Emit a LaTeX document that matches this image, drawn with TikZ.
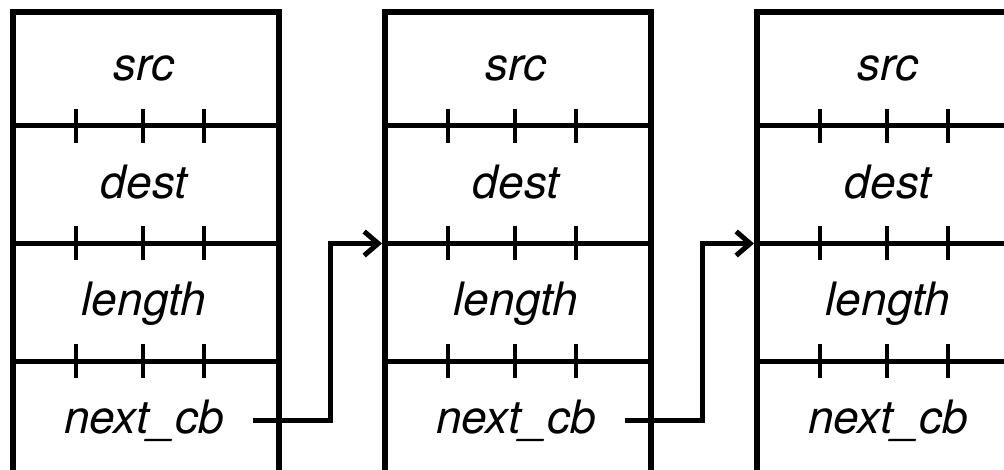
\documentclass[tikz,border=0pt]{standalone}
\usepackage{fontspec}
\setsansfont{TeX Gyre Heros}
\usetikzlibrary{arrows.meta}

\begin{document}
\begin{tikzpicture}[
  x=1pt, y=-1pt,
  % Node styles
  field/.style={
    font=\sffamily\itshape\fontsize{46}{46}\selectfont,
    inner sep=0pt,
    anchor=base,
  },
  % Line styles
  frame/.style={line width=6pt},
  divider/.style={line width=5pt},
  tick/.style={line width=4.5pt},
  link/.style={
    line width=5pt,
    -{Straight Barb[length=14pt,width=24pt]},
    shorten >=3pt,
  },
]
  \useasboundingbox (0,0) rectangle (1004,470);

  % Spacing constants (plain numbers, in pt)
  \pgfmathsetmacro{\boxsep}{372}   % distance between boxes
  \pgfmathsetmacro{\boxw}{266}     % width of one box
  \pgfmathsetmacro{\rowh}{117.5}   % height of one field

  \foreach \b in {1,2,3} {
    \pgfmathsetmacro{\lx}{13 + (\b-1)*\boxsep}

    % Outline, open at the bottom
    \draw[frame] (\lx, 480) |- (\lx+\boxw, 12) -- (\lx+\boxw, 480);

    % Dividers between the fields, with their ticks
    \foreach \k in {1,2,3} {
      \pgfmathsetmacro{\dy}{126 + (\k-1)*\rowh}
      \coordinate (D\b-\k) at (\lx, \dy);
      \draw[divider] (D\b-\k) -- ++(\boxw, 0);
      \foreach \t in {63,130,191} {
        \draw[tick] ([xshift=\t pt]D\b-\k) ++(0, -17) -- ++(0, 34);
      }
    }

    % Field names
    \foreach \r/\txt in {1/src, 2/dest, 3/length, 4/next\_cb} {
      \pgfmathsetmacro{\by}{81 + (\r-1)*\rowh}
      \node[field] (B\b-\r) at (\lx+131, \by) {\txt};
    }

    % Start of the next pointer
    \coordinate (S\b) at (\lx+240, 420);
  }

  % Links: next_cb -> following box
  \foreach \b [evaluate=\b as \n using int(\b+1)] in {1,2} {
    \draw[link] (S\b) -- ++(77, 0) |- (D\n-2);
  }

\end{tikzpicture}
\end{document}
